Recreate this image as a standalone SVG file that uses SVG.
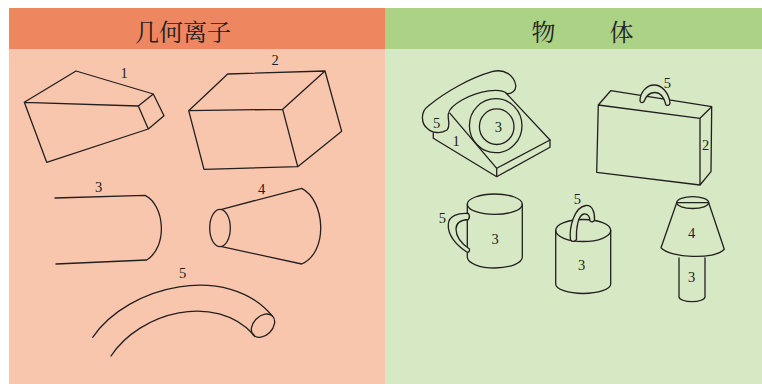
<svg xmlns="http://www.w3.org/2000/svg" width="762" height="384" viewBox="0 0 762 384">
<style>
.ln{fill:none;stroke:#231f20;stroke-width:1.3;stroke-linejoin:round;stroke-linecap:round}
.lg{fill:#d7e8c4;stroke:#231f20;stroke-width:1.3;stroke-linejoin:round}
.lo{fill:#f8c6ac;stroke:#231f20;stroke-width:1.3;stroke-linejoin:round}
.num{font-family:"Liberation Serif","Times New Roman",serif;font-size:14.5px;fill:#231f20;text-anchor:middle}
.hd{font-family:"Noto Serif CJK SC","Noto Sans CJK SC",serif;font-size:24px;fill:#231f20;text-anchor:middle}
</style>
<rect width="762" height="384" fill="#ffffff"/>
<g id="left-panel">
<rect x="9" y="8" width="376" height="376" fill="#f8c6ac"/>
<rect x="9" y="8" width="376" height="41" fill="#ee8660"/>
<text class="hd" x="183" y="41">几何离子</text>
</g>
<g id="right-panel">
<rect x="385" y="8" width="377" height="376" fill="#d7e8c4"/>
<rect x="385" y="8" width="377" height="41" fill="#abd285"/>
<text class="hd" x="543.5" y="41">物</text>
<text class="hd" x="621.5" y="41">体</text>
</g>
<g id="shape1">
<path class="ln" d="M24.3,102.3 L76,71 L153.3,94 L164,115.7 L148.3,129 L46.7,162.3 Z M24.3,102.3 L138.3,106 L153.3,94 M138.3,106 L148.3,129"/>
<text class="num" x="124" y="77.5">1</text>
</g>
<g id="shape2">
<path class="ln" d="M188.7,110.7 L227.7,74 L325,71 L341.7,131.3 L297.7,166.7 L204,169.3 Z M188.7,110.7 L282.7,109.3 L325,71 M282.7,109.3 L297.7,166.7"/>
<text class="num" x="275" y="65">2</text>
</g>
<g id="shape3">
<path class="ln" d="M55,198 L145,195.3 C165,205 168,247 146.7,260 L56,264"/>
<text class="num" x="98.7" y="192">3</text>
</g>
<g id="shape4">
<ellipse class="ln" cx="220" cy="228" rx="10.3" ry="18.7"/>
<path class="ln" d="M221.7,209.3 L301.7,188.3 C325,200 329,252 301.7,264 L221.7,246.7"/>
<text class="num" x="261.7" y="194">4</text>
</g>
<g id="shape5">
<path class="ln" d="M92.7,337.3 C128,285 228,262 272.5,316.2 M111,356 C140,312 215,292 254,335"/>
<ellipse class="ln" cx="263" cy="325.7" rx="13.5" ry="9.5" transform="rotate(-45 263 325.7)"/>
<text class="num" x="182.7" y="278">5</text>
</g>
<g id="telephone">
<path class="ln" d="M433.3,133 L433.3,138.3 L496.7,176.7 L550,147.3 L550,140 M496.7,168.3 L496.7,176.7"/>
<path class="ln" d="M450,113.3 L496.7,168.3 L550,140 L506,93"/>
<path class="lg" d="M428,129 C421,124 420,112 428.3,106 C445,92 470,78 492,71.7 C505,68 514,76 515.7,85 C516.5,91 511,94.5 506.7,93.3 C500,88 480,90 462,100 C455,104 449,109 448.3,114 C447.5,120 451,126 447,130 C441,134 432,133 428,129 Z"/>
<ellipse class="ln" cx="495.7" cy="125.7" rx="26.3" ry="27"/>
<ellipse class="ln" cx="496.7" cy="126.7" rx="17.3" ry="17.8"/>
<text class="num" x="436.7" y="128">5</text>
<text class="num" x="456" y="146">1</text>
<text class="num" x="498.3" y="131.5">3</text>
</g>
<g id="suitcase">
<path class="ln" d="M598.3,105 L700,118.3 L700,185 L596.7,172.3 Z M598.3,105 L610.7,90.7 L711.7,106.7 L700,118.3 M711.7,106.7 L711,171.7 L700,185"/>
<path class="lg" d="M640,101 C640,92 647,85 654,85 C662,85 669,93 670,103 Q669,106.5 666,105 C664,97 660,92.5 655,92.5 C650,92.5 646,96 644,101.5 Q641.5,104 640,101 Z"/>
<text class="num" x="667.3" y="87.5">5</text>
<text class="num" x="705.5" y="150">2</text>
</g>
<g id="mug">
<ellipse class="ln" cx="494.8" cy="204.2" rx="27.5" ry="10.2"/>
<path class="ln" d="M467.3,204.2 L467.3,257 A27.5,11 0 0 0 522.3,257 L522.3,204.2"/>
<path class="lg" d="M468.5,213.5 C458,212.5 449,216 448.3,224 C447.5,235 456,245 466,251.5 Q470,253.5 469.5,249 C462,244 456,238 456,229 C456,223 460,220 468.5,219.5 Q470.5,216.5 468.5,213.5 Z"/>
<text class="num" x="442.3" y="223">5</text>
<text class="num" x="495" y="244">3</text>
</g>
<g id="can">
<ellipse class="ln" cx="583.2" cy="230.5" rx="27.5" ry="11"/>
<path class="ln" d="M555.7,230.5 L555.7,284 A27.5,9.5 0 0 0 610.7,284 L610.7,230.5"/>
<path class="lg" d="M570.5,240 C569,228 574,207 586,205.5 C592,205 595,212 594.5,220 Q593,223 590,221 C590,217 588,213.5 584,214 C578,215 576,228 576.5,239.5 Q573.5,243 570.5,240 Z"/>
<text class="num" x="577.3" y="204">5</text>
<text class="num" x="581.7" y="270">3</text>
</g>
<g id="lamp">
<path class="ln" d="M679,258 L679,296.7 A13,5 0 0 0 705,296.7 L705,258"/>
<path class="lg" d="M676.7,202.7 L661,247.7 C670,258 715,260 724.3,249.3 L708.7,202.7 Z"/>
<ellipse class="ln" cx="692.7" cy="202.6" rx="16" ry="5.9"/>
<text class="num" x="691.7" y="238">4</text>
<text class="num" x="691.7" y="282">3</text>
</g>
<g id="connectors"></g>
</svg>
